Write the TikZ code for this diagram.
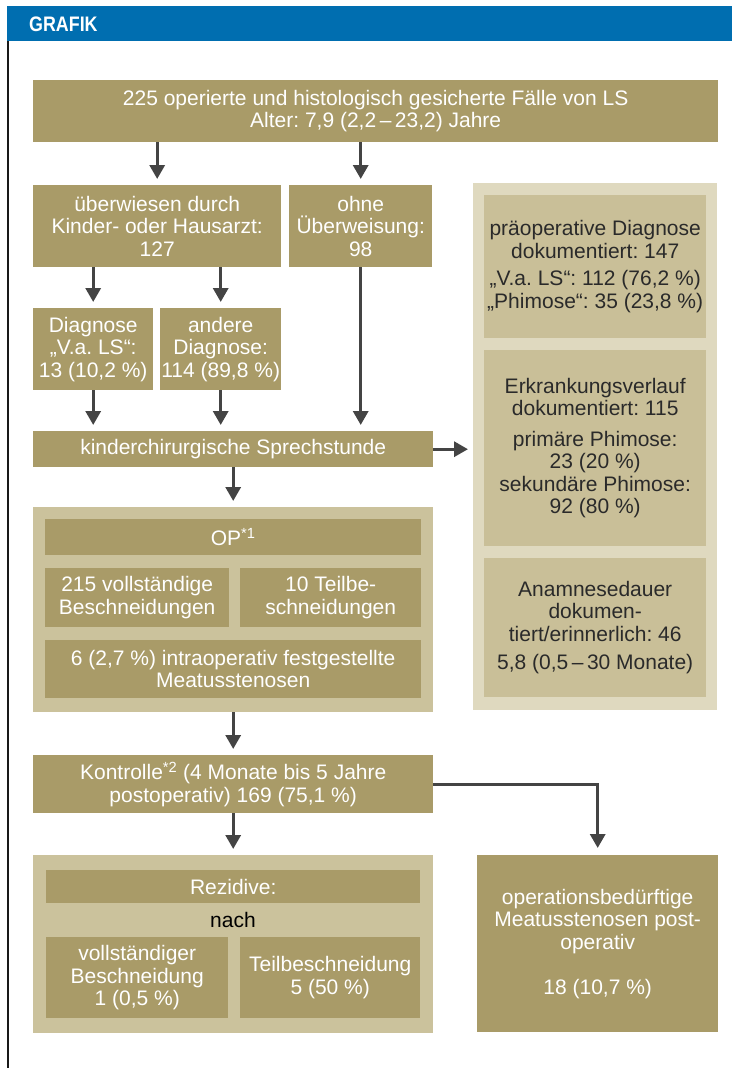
\documentclass[tikz,border=0pt]{standalone}
\usepackage{fontspec}
\setmainfont{Liberation Sans}
\newfontfamily\titlefont[FakeStretch=0.85]{Liberation Sans}
\usetikzlibrary{arrows.meta}
\definecolor{tdark}{HTML}{A99B68}
\definecolor{tlight}{HTML}{CBC29C}
\definecolor{tpale}{HTML}{DFD9BF}
\definecolor{tinner}{HTML}{C9BF98}
\definecolor{hblue}{HTML}{006EB0}
\definecolor{arrgray}{HTML}{444444}
\definecolor{dtext}{HTML}{2A2A2A}
\newcommand{\fs}{\fontsize{21}{22.5}\selectfont\frenchspacing}
\tikzset{
  dbox/.style={fill=tdark, text=white, inner sep=0pt, anchor=north west, align=center, font=\fs},
  lpanel/.style={fill=tlight, inner sep=0pt, anchor=north west},
  ppanel/.style={fill=tpale, inner sep=0pt, anchor=north west},
  ibox/.style={fill=tinner, text=dtext, inner sep=0pt, anchor=north west, align=center, font=\fs},
  arr/.style={draw=arrgray, line width=3.2pt, -{Triangle[length=14pt,width=15pt]}, shorten >=6pt},
}
\begin{document}
\begin{tikzpicture}[x=1pt,y=-1pt]
\useasboundingbox (0,0) rectangle (732,1068);
% header
\fill[hblue] (7,6) rectangle (732,41);
\node[anchor=west, text=white, inner sep=0pt, font=\fontsize{21}{22}\selectfont\titlefont\bfseries] (title) at (29,24) {GRAFIK};
\draw[black!90, line width=2.2pt] (8,41) -- (8,1068);
% top
\node[dbox, minimum width=685pt, minimum height=62pt] (b1) at (33,80) {225 operierte und histologisch gesicherte Fälle von LS\\Alter: 7,9 (2,2\,–\,23,2) Jahre};
\node[dbox, minimum width=248pt, minimum height=82pt] (ub) at (33,185) {überwiesen durch\\Kinder- oder Hausarzt:\\127};
\node[dbox, minimum width=143pt, minimum height=82pt] (oh) at (289,185) {ohne\\Überweisung:\\98};
\node[dbox, minimum width=120pt, minimum height=82pt] (dg) at (33,308) {Diagnose\\„V.a. LS“:\\13 (10,2 \%)};
\node[dbox, minimum width=121pt, minimum height=82pt] (ad) at (160,308) {andere\\Diagnose:\\114 (89,8 \%)};
\node[dbox, minimum width=400pt, minimum height=36pt] (sp) at (33,431) {kinderchirurgische Sprechstunde};
% right panel
\node[ppanel, minimum width=244pt, minimum height=527pt] (rp) at (473,183) {};
\node[ibox, minimum width=222pt, minimum height=143pt] (ra) at (484,195) {präoperative Diagnose\\dokumentiert: 147\\[5pt]„V.a. LS“: 112 (76,2 \%)\\„Phimose“: 35 (23,8 \%)};
\node[ibox, minimum width=222pt, minimum height=196pt] (rb) at (484,350) {Erkrankungsverlauf\\dokumentiert: 115\\[8pt]primäre Phimose:\\23 (20 \%)\\sekundäre Phimose:\\92 (80 \%)};
\node[ibox, minimum width=222pt, minimum height=139pt] (rc) at (484,558) {Anamnesedauer\\dokumen-\\tiert/erinnerlich: 46\\[6pt]5,8 (0,5\,–\,30 Monate)};
% OP panel
\node[lpanel, minimum width=400pt, minimum height=205pt] (op) at (33,507) {};
\node[dbox, minimum width=376pt, minimum height=36pt] (opbar) at (45,519) {OP\textsuperscript{*1}};
\node[dbox, minimum width=184pt, minimum height=59pt] (v215) at (45,568) {215 vollständige\\Beschneidungen};
\node[dbox, minimum width=181pt, minimum height=59pt] (t10) at (240,568) {10 Teilbe-\\schneidungen};
\node[dbox, minimum width=376pt, minimum height=58pt] (m6) at (45,640) {6 (2,7 \%) intraoperativ festgestellte\\Meatusstenosen};
% Kontrolle
\node[dbox, minimum width=400pt, minimum height=58pt] (ko) at (33,755) {Kontrolle\textsuperscript{*2} (4 Monate bis 5 Jahre\\postoperativ) 169 (75,1 \%)};
% Rezidive panel
\node[lpanel, minimum width=400pt, minimum height=178pt] (rz) at (33,855) {};
\node[dbox, minimum width=374pt, minimum height=33pt] (rzbar) at (46,870) {Rezidive:};
\node[text=black, inner sep=0pt, font=\fs] (nach) at (233,920) {nach};
\node[dbox, minimum width=182pt, minimum height=81pt] (vb) at (46,937) {vollständiger\\Beschneidung\\1 (0,5 \%)};
\node[dbox, minimum width=180pt, minimum height=81pt] (tb) at (240,937) {Teilbeschneidung\\5 (50 \%)};
\node[dbox, minimum width=241pt, minimum height=177pt] (ob) at (477,855) {operationsbedürftige\\Meatusstenosen post-\\operativ\\[22.5pt]18 (10,7 \%)};
% arrows
\draw[arr] (b1.south -| ub.north) -- (ub.north);
\draw[arr] (b1.south -| oh.north) -- (oh.north);
\draw[arr] (ub.south -| dg.north) -- (dg.north);
\draw[arr] (ub.south -| ad.north) -- (ad.north);
\draw[arr] (dg.south) -- (sp.north -| dg.south);
\draw[arr] (ad.south) -- (sp.north -| ad.south);
\draw[arr] (oh.south) -- (sp.north -| oh.south);
\draw[arr, shorten >=5pt] (sp.east) -- (rp.west |- sp.east);
\draw[arr] (sp.south) -- (op.north);
\draw[arr] (op.south) -- (ko.north);
\draw[arr] (ko.south) -- (rz.north);
\draw[arr, shorten >=7pt] (ko.east) -| (ob.north);
\end{tikzpicture}
\end{document}
